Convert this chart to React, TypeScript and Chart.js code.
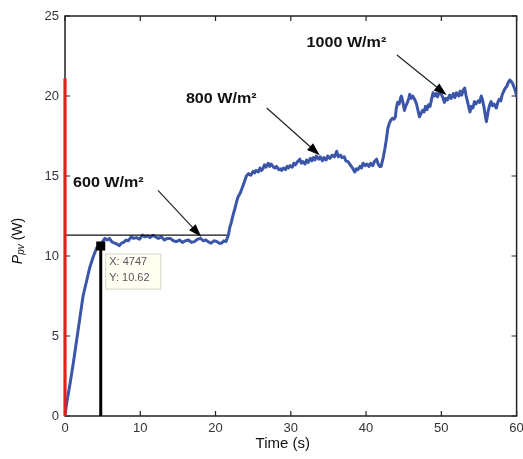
import { useEffect, useRef } from "react";
import { Chart, registerables } from "chart.js";

Chart.register(...registerables);

// ---- data (time in s, PV power in W) ----
const timeS = [
  // start-up
  0, 0.22, 0.66, 1.1, 1.55, 2.0, 2.4, 2.9, 3.3, 3.75, 4.2, 4.65,
  // 600 W/m²
  5.0, 5.3, 5.6, 5.9, 6.2, 6.6, 6.9, 7.2, 7.5, 7.8, 8.1, 8.4, 8.8, 9.1, 9.5, 9.9,
  10.3, 10.6, 11.0, 11.3, 11.7, 12.0, 12.4, 12.8, 13.2, 13.6, 14.0, 14.4, 14.8,
  15.2, 15.6, 16.0, 16.4, 16.8, 17.2, 17.6, 18.0, 18.4, 18.7, 19.0, 19.4, 19.8,
  20.2, 20.5, 20.8, 21.1, 21.4,
  // step up
  21.7, 21.9, 22.1, 22.35, 22.6, 22.8, 23.0, 23.25, 23.5, 23.8,
  // 800 W/m²
  24.1, 24.4, 24.7, 25.0, 25.2, 25.4, 25.7, 25.9, 26.1, 26.3,
  26.5, 26.7, 27.0, 27.2, 27.4, 27.7, 27.9, 28.1, 28.4, 28.6,
  28.8, 29.0, 29.3, 29.5, 29.7, 29.9, 30.2, 30.4, 30.6, 30.9,
  31.2, 31.4, 31.6, 31.9, 32.1, 32.3, 32.6, 32.8, 33.0, 33.2,
  33.4, 33.7, 33.9, 34.2, 34.4, 34.7, 34.9, 35.2, 35.5, 35.8,
  36.1, 36.3, 36.6, 36.8, 37.1, 37.3, 37.6, 37.9, 38.2, 38.5,
  38.7, 38.9, 39.2, 39.4, 39.6, 39.9, 40.1, 40.4, 40.6, 40.9,
  41.1, 41.4, 41.6, 41.8, 42.0,
  // 1000 W/m²
  42.3, 42.5, 42.7, 42.9, 43.1, 43.3, 43.5, 43.7, 43.9, 44.0,
  44.2, 44.4, 44.6, 44.7, 44.9, 45.1, 45.3, 45.5, 45.7, 45.8,
  46.0, 46.2, 46.5, 46.7, 46.9, 47.1, 47.3, 47.5, 47.7, 47.9,
  48.1, 48.3, 48.5, 48.7, 48.9, 49.1, 49.3, 49.5, 49.8, 50.0,
  50.2, 50.4, 50.6, 50.8, 51.1, 51.3, 51.6, 51.8, 52.0, 52.3,
  52.5, 52.7, 52.9, 53.1, 53.3, 53.5, 53.7, 53.8, 54.0, 54.2,
  54.4, 54.6, 54.9, 55.1, 55.3, 55.5, 55.7, 55.9, 56.0, 56.2,
  56.4, 56.6, 56.8, 57.0, 57.3, 57.5, 57.7, 57.9, 58.1, 58.3,
  58.5, 58.7, 58.9, 59.1, 59.3, 59.5, 59.7, 59.85, 60.0,
];
const powerW = [
  // start-up
  0, 0.8, 2.0, 3.3, 4.75, 6.2, 7.5, 8.5, 9.3, 9.95, 10.5, 10.62,
  // 600 W/m²
  10.9, 11.1, 11.0, 11.1, 10.9, 10.8, 10.75, 10.65, 10.8, 10.85, 11.0, 10.95, 11.2, 11.1, 11.15, 11.05,
  11.3, 11.2, 11.25, 11.15, 11.3, 11.2, 11.1, 11.2, 11.0, 11.1, 11.1, 10.95, 10.9,
  11.0, 10.85, 10.95, 11.0, 10.85, 10.9, 11.05, 11.1, 10.95, 11.0, 10.9, 10.8, 10.95,
  10.9, 10.8, 10.8, 10.95, 10.9,
  // step up
  11.3, 11.8, 12.1, 12.6, 13.0, 13.4, 13.7, 13.9, 14.2, 14.6,
  // 800 W/m²
  15.0, 15.15, 15.05, 15.3, 15.2, 15.35, 15.25, 15.5, 15.35, 15.45,
  15.7, 15.55, 15.8, 15.6, 15.75, 15.55, 15.5, 15.6, 15.4, 15.45,
  15.35, 15.5, 15.4, 15.6, 15.5, 15.65, 15.55, 15.8, 15.7, 15.9,
  16.05, 15.8, 15.9, 15.75, 16.0, 15.85, 16.1, 15.95, 16.15, 16.0,
  16.25, 16.05, 16.2, 15.95, 16.15, 16.0, 16.25, 16.1, 16.3, 16.2,
  16.55, 16.2, 16.3, 16.15, 16.2, 15.95, 15.9, 15.7, 15.5, 15.25,
  15.45, 15.4, 15.6, 15.5, 15.8, 15.65, 15.75, 15.6, 15.8, 15.65,
  15.9, 16.05, 15.75, 15.6, 15.6,
  // 1000 W/m²
  16.2, 16.7, 17.3, 18.0, 18.3, 18.5, 18.6, 18.55, 18.7, 19.2,
  19.6, 19.5, 19.9, 20.0, 19.6, 19.1, 19.4, 19.6, 19.9, 20.1,
  19.85, 20.0, 19.75, 19.5, 19.1, 18.7, 18.9, 19.1, 19.0, 19.35,
  19.15, 19.45, 19.35, 19.8, 20.2, 20.0, 20.15, 19.95, 20.35, 20.1,
  19.9, 19.6, 19.85, 19.75, 20.05, 19.85, 20.15, 19.9, 20.2, 20.0,
  20.3, 20.05, 20.35, 20.5, 20.0, 19.6, 19.2, 19.0, 19.35, 19.25,
  19.65, 19.5, 19.7, 19.6, 20.0, 19.7, 19.2, 18.6, 18.4, 19.0,
  19.4, 19.65, 19.4, 19.5, 19.25, 19.6, 19.8, 19.7, 20.1, 20.3,
  20.5, 20.6, 20.85, 21.0, 20.9, 20.75, 20.5, 20.3, 20.0,
];

// red start-up trace at t = 0
const redTraceT = [0, 0];
const redTraceP = [0, 21.1];
// black reference level line
const refLineT = [0, 21.5];
const refLineP = [11.3, 11.3];
// data cursor
const cursorT = 4.747;
const cursorP = 10.62;
const datatipLines = ["X: 4747", "Y: 10.62"];

// axes
const xTicks = [0, 10, 20, 30, 40, 50, 60];
const yTicks = [0, 5, 10, 15, 20, 25];
const xTitle = "Time (s)";

// irradiance annotations (data coordinates)
const annotationLabels = ["600 W/m²", "800 W/m²", "1000 W/m²"];
const annotationTextT = [1.06, 16.06, 32.1];
const annotationTextP = [14.56, 19.8, 23.3];
const arrowFromT = [12.35, 26.8, 44.1];
const arrowFromP = [14.1, 19.25, 22.56];
const arrowToT = [18.1, 33.85, 50.7];
const arrowToP = [11.2, 16.3, 20.06];

const FONT = '"Liberation Sans", Arial, Helvetica, sans-serif';

const overlayPlugin = {
  id: "matlabOverlay",
  beforeDatasetsDraw(chart: any) {
    const { ctx, chartArea: a, scales } = chart;
    const xs = scales.x;
    const ys = scales.y;
    ctx.save();
    ctx.strokeStyle = "#222";
    ctx.lineWidth = 1.5;
    ctx.strokeRect(a.left, a.top, a.right - a.left, a.bottom - a.top);
    ctx.lineWidth = 1.2;
    ctx.beginPath();
    const tl = 5;
    xTicks.forEach((t) => {
      const px = xs.getPixelForValue(t);
      ctx.moveTo(px, a.bottom);
      ctx.lineTo(px, a.bottom - tl);
      ctx.moveTo(px, a.top);
      ctx.lineTo(px, a.top + tl);
    });
    yTicks.forEach((v) => {
      const py = ys.getPixelForValue(v);
      ctx.moveTo(a.left, py);
      ctx.lineTo(a.left + tl, py);
      ctx.moveTo(a.right, py);
      ctx.lineTo(a.right - tl, py);
    });
    ctx.stroke();
    ctx.restore();
  },
  afterDraw(chart: any) {
    const { ctx, chartArea: a, scales } = chart;
    const xs = scales.x;
    const ys = scales.y;
    ctx.save();

    // arrows + labels
    annotationLabels.forEach((label, i) => {
      const x1 = xs.getPixelForValue(arrowFromT[i]);
      const y1 = ys.getPixelForValue(arrowFromP[i]);
      const x2 = xs.getPixelForValue(arrowToT[i]);
      const y2 = ys.getPixelForValue(arrowToP[i]);
      const ang = Math.atan2(y2 - y1, x2 - x1);
      const headLen = 13;
      const headW = 4.5;
      ctx.strokeStyle = "#222";
      ctx.lineWidth = 1.2;
      ctx.beginPath();
      ctx.moveTo(x1, y1);
      ctx.lineTo(x2 - Math.cos(ang) * headLen * 0.8, y2 - Math.sin(ang) * headLen * 0.8);
      ctx.stroke();
      const bx = x2 - Math.cos(ang) * headLen;
      const by = y2 - Math.sin(ang) * headLen;
      ctx.fillStyle = "#000";
      ctx.beginPath();
      ctx.moveTo(x2, y2);
      ctx.lineTo(bx - Math.sin(ang) * headW, by + Math.cos(ang) * headW);
      ctx.lineTo(bx + Math.sin(ang) * headW, by - Math.cos(ang) * headW);
      ctx.closePath();
      ctx.fill();

      const tx = xs.getPixelForValue(annotationTextT[i]);
      const ty = ys.getPixelForValue(annotationTextP[i]);
      ctx.save();
      ctx.translate(tx, ty);
      ctx.scale(1.15, 1);
      ctx.font = `bold 14px ${FONT}`;
      ctx.fillStyle = "#111";
      ctx.textAlign = "left";
      ctx.textBaseline = "middle";
      ctx.fillText(label, 0, 0);
      ctx.restore();
    });

    // data tip box
    const cx = xs.getPixelForValue(cursorT);
    const cy = ys.getPixelForValue(cursorP);
    const bx0 = cx + 4.5;
    const by0 = cy + 7.5;
    const bw = 55;
    const bh = 35;
    ctx.fillStyle = "#fffff2";
    ctx.fillRect(bx0, by0, bw, bh);
    ctx.strokeStyle = "#d6d6c6";
    ctx.lineWidth = 1;
    ctx.strokeRect(bx0 + 0.5, by0 + 0.5, bw, bh);
    ctx.font = `11px ${FONT}`;
    ctx.fillStyle = "#5a5560";
    ctx.textAlign = "left";
    ctx.textBaseline = "middle";
    ctx.fillText(datatipLines[0], bx0 + 4, by0 + 8.5);
    ctx.fillText(datatipLines[1], bx0 + 4, by0 + 24.5);

    // x title
    ctx.font = `15px ${FONT}`;
    ctx.fillStyle = "#111";
    ctx.textAlign = "center";
    ctx.textBaseline = "middle";
    ctx.fillText(xTitle, (a.left + a.right) / 2 - 8, a.bottom + 28);

    // y title: P_pv (W), rotated
    ctx.save();
    ctx.translate(18, (a.top + a.bottom) / 2 + 25);
    ctx.rotate(-Math.PI / 2);
    const fMain = `italic 14px ${FONT}`;
    const fSub = `italic 10px ${FONT}`;
    const fRest = `14px ${FONT}`;
    ctx.font = fMain;
    const wP = ctx.measureText("P").width;
    ctx.font = fSub;
    const wSub = ctx.measureText("pv").width;
    ctx.font = fRest;
    const wRest = ctx.measureText(" (W)").width;
    let x0 = -(wP + wSub + wRest) / 2;
    ctx.textAlign = "left";
    ctx.textBaseline = "middle";
    ctx.fillStyle = "#111";
    ctx.font = fMain;
    ctx.fillText("P", x0, 0);
    x0 += wP;
    ctx.font = fSub;
    ctx.fillText("pv", x0, 3);
    x0 += wSub;
    ctx.font = fRest;
    ctx.fillText(" (W)", x0, 0);
    ctx.restore();

    ctx.restore();
  },
};

export default function App() {
  const canvasRef = useRef<HTMLCanvasElement | null>(null);

  useEffect(() => {
    const canvas = canvasRef.current;
    if (!canvas) return;
    const toPts = (ts: number[], ps: number[]) => ts.map((t, i) => ({ x: t, y: ps[i] }));

    const chart = new Chart(canvas, {
      type: "line",
      data: {
        datasets: [
          {
            data: [{ x: cursorT, y: cursorP }],
            showLine: false,
            pointStyle: "rect",
            pointRadius: 6.4,
            pointBackgroundColor: "#000",
            pointBorderColor: "#000",
            pointBorderWidth: 0,
          },
          {
            data: toPts(redTraceT, redTraceP),
            borderColor: "#f01a1a",
            borderWidth: 3.2,
            pointRadius: 0,
            clip: false,
          },
          {
            data: [
              { x: cursorT, y: 0 },
              { x: cursorT, y: cursorP },
            ],
            borderColor: "#000",
            borderWidth: 3,
            pointRadius: 0,
          },
          {
            data: toPts(refLineT, refLineP),
            borderColor: "#111",
            borderWidth: 1.3,
            pointRadius: 0,
          },
          {
            data: toPts(timeS, powerW),
            borderColor: "#3b56a8",
            borderWidth: 3,
            borderJoinStyle: "round",
            borderCapStyle: "round",
            pointRadius: 0,
            tension: 0,
          },
        ],
      },
      options: {
        animation: false,
        responsive: false,
        events: [],
        layout: { padding: { left: 0, right: 6, top: 16, bottom: 0 } },
        plugins: {
          legend: { display: false },
          tooltip: { enabled: false },
        },
        scales: {
          x: {
            type: "linear",
            min: 0,
            max: 60,
            afterBuildTicks: (s: any) => {
              s.ticks = xTicks.map((v) => ({ value: v }));
            },
            grid: { display: false, drawTicks: false },
            border: { display: false },
            ticks: {
              padding: 5,
              color: "#333",
              font: { family: FONT, size: 13 },
              maxRotation: 0,
            },
            afterFit: (s: any) => {
              s.height = 43;
              s.paddingLeft = 0;
              s.paddingRight = 0;
            },
          },
          y: {
            type: "linear",
            min: 0,
            max: 25,
            afterBuildTicks: (s: any) => {
              s.ticks = yTicks.map((v) => ({ value: v }));
            },
            grid: { display: false, drawTicks: false },
            border: { display: false },
            ticks: {
              padding: 6,
              color: "#333",
              font: { family: FONT, size: 13 },
            },
            afterFit: (s: any) => {
              s.width = 65;
              s.paddingTop = 0;
              s.paddingBottom = 0;
            },
          },
        },
      },
      plugins: [overlayPlugin],
    });
    return () => chart.destroy();
  }, []);

  return (
    <div
      style={{
        position: "fixed",
        left: 0,
        top: 0,
        width: 523,
        height: 459,
        background: "#fff",
      }}
    >
      <canvas ref={canvasRef} width={523} height={459} style={{ display: "block" }} />
    </div>
  );
}
